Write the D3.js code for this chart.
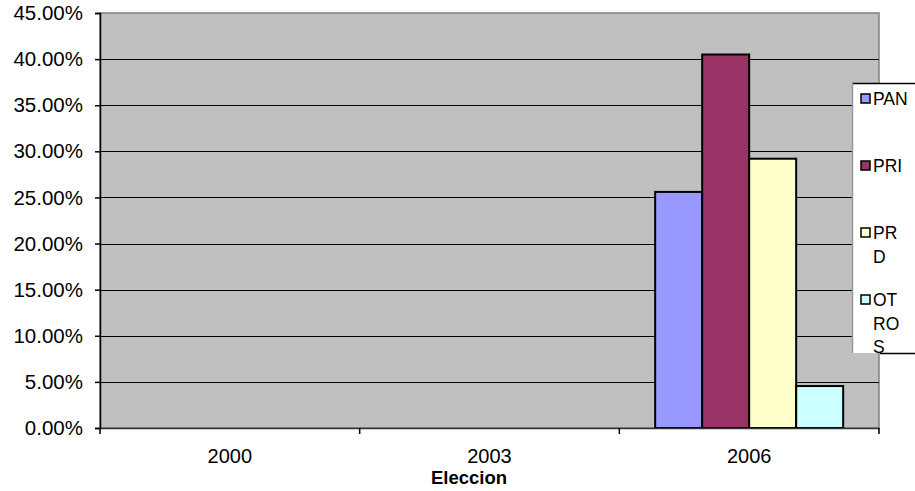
<!DOCTYPE html>
<html>
<head>
<meta charset="utf-8">
<script src="https://cdn.jsdelivr.net/npm/d3@7/dist/d3.min.js"></script>
<style>
html,body{margin:0;padding:0;background:#fff;}
svg{display:block;font-family:"Liberation Sans",Arial,sans-serif;}
</style>
</head>
<body>
<svg id="chart" width="915" height="491"></svg>
<script>
const categories = ["2000", "2003", "2006"];
const seriesNames = ["PAN", "PRI", "PRD", "OTROS"];
const legendLabels = [["PAN"], ["PRI"], ["PR", "D"], ["OT", "RO", "S"]];
const PAN = [null, null, 25.6];
const PRI = [null, null, 40.5];
const PRD = [null, null, 29.2];
const OTROS = [null, null, 4.55];
const yTicks = [0, 5, 10, 15, 20, 25, 30, 35, 40, 45];
const xTitle = "Eleccion";
const colors = ["#9999FF", "#993366", "#FFFFCC", "#CCFFFF"];

const seriesValues = [PAN, PRI, PRD, OTROS];
const svg = d3.select("#chart");
const L = 100, R = 879, T = 13, B = 428;

const x0 = d3.scaleBand().domain(categories).range([L, R]);
const g = 0.138;
const x1 = d3.scaleBand().domain(seriesNames)
  .range([x0.bandwidth() * g, x0.bandwidth() * (1 - g)]);
const y = d3.scaleLinear().domain([0, 45]).range([B, T]);

// plot background
svg.append("rect").attr("x", L).attr("y", T).attr("width", R - L).attr("height", B - T)
  .attr("fill", "#C0C0C0").attr("stroke", "#808080").attr("stroke-width", 1.5);

// gridlines
svg.append("g").selectAll("line").data(yTicks.filter(d => d > 0 && d < 45)).join("line")
  .attr("x1", L).attr("x2", R)
  .attr("y1", d => Math.round(y(d)) + 0.5).attr("y2", d => Math.round(y(d)) + 0.5)
  .attr("stroke", "#000").attr("stroke-width", 1);

// bars
const data = [];
categories.forEach((c, i) => seriesNames.forEach((s, j) => {
  const v = seriesValues[j][i];
  if (v != null) data.push({c, s, v, color: colors[j]});
}));
svg.append("g").selectAll("rect").data(data).join("rect")
  .attr("x", d => x0(d.c) + x1(d.s))
  .attr("width", x1.bandwidth())
  .attr("y", d => y(d.v))
  .attr("height", d => B - y(d.v))
  .attr("fill", d => d.color)
  .attr("stroke", "#000").attr("stroke-width", 2);

// y axis
const yAxis = d3.axisLeft(y).tickValues(yTicks).tickSize(5).tickPadding(12)
  .tickFormat(d => d.toFixed(2) + "%");
const ya = svg.append("g").attr("transform", `translate(${L},0)`).call(yAxis);
ya.select(".domain").attr("stroke", "#000").attr("stroke-width", 1.5);
ya.selectAll(".tick line").attr("stroke", "#000").attr("stroke-width", 1.5);
ya.selectAll(".tick text").attr("font-size", 20.5).attr("fill", "#000")
  .attr("font-family", "'Liberation Sans', Arial, sans-serif");

// x axis
const xa = svg.append("g").attr("transform", `translate(0,${B})`)
  .call(d3.axisBottom(x0).tickSize(0).tickPadding(21));
xa.select(".domain").attr("stroke", "#333").attr("stroke-width", 1.5);
xa.selectAll(".tick text").attr("font-size", 20).attr("fill", "#000")
  .attr("font-family", "'Liberation Sans', Arial, sans-serif");
// category separators
const seps = categories.map(c => x0(c)).concat([R]);
svg.append("g").selectAll("line").data(seps).join("line")
  .attr("x1", d => d).attr("x2", d => d).attr("y1", B).attr("y2", B + 6)
  .attr("stroke", "#000").attr("stroke-width", 1.5);

// x title
svg.append("text").attr("x", 469).attr("y", 484)
  .attr("text-anchor", "middle").attr("font-size", 18.5).attr("font-weight", "bold")
  .text(xTitle);

// legend
const lg = svg.append("g");
const LX = 852, LT = 83, LB = 353;
lg.append("rect").attr("x", LX).attr("y", LT).attr("width", 915 - LX + 5).attr("height", LB - LT)
  .attr("fill", "#fff");
lg.append("line").attr("x1", LX).attr("x2", 915).attr("y1", LT + 0.5).attr("y2", LT + 0.5)
  .attr("stroke", "#000").attr("stroke-width", 1.5);
lg.append("line").attr("x1", LX + 0.5).attr("x2", LX + 0.5).attr("y1", LT).attr("y2", LB)
  .attr("stroke", "#999").attr("stroke-width", 1.5);
lg.append("line").attr("x1", 880).attr("x2", 915).attr("y1", LB + 0.5).attr("y2", LB + 0.5)
  .attr("stroke", "#000").attr("stroke-width", 1.5);

const itemY = d3.scalePoint().domain(seriesNames).range([99, 300]);
seriesNames.forEach((s, j) => {
  const cy = itemY(s);
  lg.append("rect").attr("x", 861).attr("y", cy - 5).attr("width", 9).attr("height", 9)
    .attr("fill", colors[j]).attr("stroke", "#000").attr("stroke-width", 1.5);
  const t = lg.append("text").attr("x", 873).attr("y", cy + 6)
    .attr("font-size", 17.5).attr("fill", "#000");
  legendLabels[j].forEach((line, k) => {
    t.append("tspan").attr("x", 873).attr("dy", k === 0 ? 0 : 23.5).text(line);
  });
});
</script>
</body>
</html>
